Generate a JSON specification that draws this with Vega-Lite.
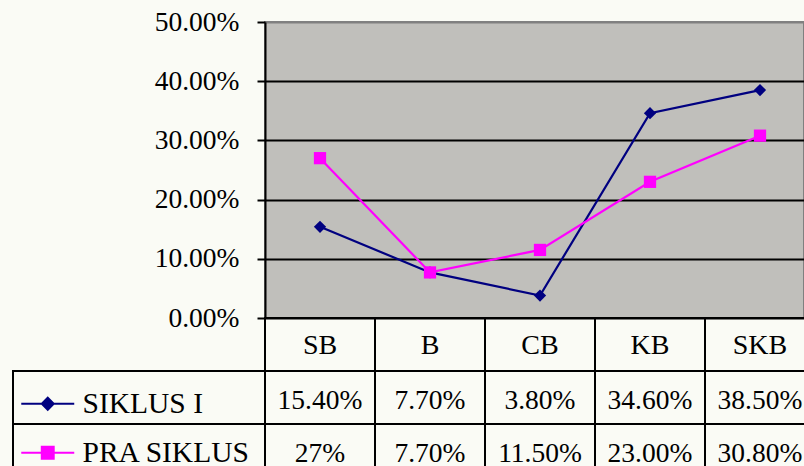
{
  "$schema": "https://vega.github.io/schema/vega-lite/v6.json",
  "width": 539,
  "height": 296,
  "autosize": {"type": "none"},
  "padding": {"left": 265, "top": 22, "right": 0, "bottom": 148},
  "background": "#fafbf5",
  "view": {"fill": "#c0bfbb", "stroke": "#808080", "strokeWidth": 2},
  "config": {
    "font": "Times New Roman, Liberation Serif, serif"
  },
  "datasets": {
    "scores": [
      {"category": "SB", "series": "SIKLUS I", "value": 0.154, "label": "15.40%"},
      {"category": "B", "series": "SIKLUS I", "value": 0.077, "label": "7.70%"},
      {"category": "CB", "series": "SIKLUS I", "value": 0.038, "label": "3.80%"},
      {"category": "KB", "series": "SIKLUS I", "value": 0.346, "label": "34.60%"},
      {"category": "SKB", "series": "SIKLUS I", "value": 0.385, "label": "38.50%"},
      {"category": "SB", "series": "PRA SIKLUS", "value": 0.27, "label": "27%"},
      {"category": "B", "series": "PRA SIKLUS", "value": 0.077, "label": "7.70%"},
      {"category": "CB", "series": "PRA SIKLUS", "value": 0.115, "label": "11.50%"},
      {"category": "KB", "series": "PRA SIKLUS", "value": 0.23, "label": "23.00%"},
      {"category": "SKB", "series": "PRA SIKLUS", "value": 0.308, "label": "30.80%"}
    ]
  },
  "data": {"name": "scores"},
  "resolve": {
    "scale": {
      "x": "independent",
      "y": "independent",
      "color": "independent",
      "fill": "independent",
      "stroke": "independent",
      "shape": "independent"
    }
  },
  "layer": [
    {
      "encoding": {
        "x": {
          "field": "category",
          "type": "ordinal",
          "scale": {"type": "point", "domain": ["SB", "B", "CB", "KB", "SKB"], "range": [0, 550], "padding": 0.5},
          "axis": null
        },
        "y": {
          "field": "value",
          "type": "quantitative",
          "scale": {"domain": [0, 0.5]},
          "axis": {
            "values": [0, 0.1, 0.2, 0.3, 0.4, 0.5],
            "format": ".2%",
            "title": null,
            "domainColor": "black",
            "domainWidth": 2,
            "tickColor": "black",
            "tickWidth": 2,
            "tickSize": 8,
            "labelFont": "Times New Roman, Liberation Serif, serif",
            "labelFontSize": 27.5,
            "labelColor": "black",
            "labelPadding": 18,
            "grid": true,
            "gridColor": {"condition": {"test": "datum.value >= 0.49", "value": "#808080"}, "value": "black"},
            "gridWidth": 2,
            "gridOpacity": 1
          }
        },
        "color": {
          "field": "series",
          "type": "nominal",
          "scale": {"domain": ["SIKLUS I", "PRA SIKLUS"], "range": ["#000080", "#ff00ff"]},
          "legend": null
        }
      },
      "layer": [
        {
          "mark": {"type": "line", "strokeWidth": 2.2},
          "encoding": {"order": {"value": null}}
        },
        {
          "mark": {"type": "point", "filled": true, "size": 150, "opacity": 1},
          "encoding": {
            "shape": {
              "field": "series",
              "type": "nominal",
              "scale": {"domain": ["SIKLUS I", "PRA SIKLUS"], "range": ["diamond", "square"]},
              "legend": null
            }
          }
        }
      ]
    },
    {
      "encoding": {
        "x": {
          "field": "category",
          "type": "nominal",
          "scale": {"type": "band", "domain": ["SB", "B", "CB", "KB", "SKB"], "range": [0, 550], "paddingInner": 0, "paddingOuter": 0},
          "axis": null
        }
      },
      "layer": [
        {
          "mark": {"type": "rect", "fill": "transparent", "stroke": "black", "strokeWidth": 2},
          "encoding": {
            "y": {
              "field": "series",
              "type": "nominal",
              "scale": {"type": "band", "domain": ["header", "SIKLUS I", "PRA SIKLUS"], "range": [296, 455], "paddingInner": 0, "paddingOuter": 0},
              "axis": null
            }
          }
        },
        {
          "mark": {"type": "text", "font": "Times New Roman, Liberation Serif, serif", "fontSize": 27.5, "color": "black", "dy": 3},
          "encoding": {
            "y": {"field": "series", "type": "nominal", "axis": null},
            "text": {"field": "label"}
          }
        },
        {
          "transform": [{"filter": "datum.series === 'SIKLUS I'"}],
          "mark": {"type": "rect", "fill": "transparent", "stroke": "black", "strokeWidth": 2},
          "encoding": {
            "y": {"datum": "header", "type": "nominal", "axis": null}
          }
        },
        {
          "transform": [{"filter": "datum.series === 'SIKLUS I'"}],
          "mark": {"type": "text", "font": "Times New Roman, Liberation Serif, serif", "fontSize": 28, "color": "black", "dy": 1},
          "encoding": {
            "y": {"datum": "header", "type": "nominal", "axis": null},
            "text": {"field": "category"}
          }
        }
      ]
    },
    {
      "transform": [{"filter": "datum.category === 'SB'"}],
      "mark": {"type": "rect", "fill": "transparent", "stroke": "black", "strokeWidth": 2},
      "encoding": {
        "x": {
          "datum": "key",
          "type": "nominal",
          "scale": {"type": "band", "domain": ["key"], "range": [-252, 0], "paddingInner": 0, "paddingOuter": 0},
          "axis": null
        },
        "y": {
          "field": "series",
          "type": "nominal",
          "scale": {"type": "band", "domain": ["header", "SIKLUS I", "PRA SIKLUS"], "range": [296, 455], "paddingInner": 0, "paddingOuter": 0},
          "axis": null
        }
      }
    },
    {
      "data": {"values": []},
      "mark": {"type": "point", "filled": true, "opacity": 1},
      "encoding": {
        "fill": {
          "field": "series",
          "type": "nominal",
          "scale": {"domain": ["SIKLUS I", "PRA SIKLUS"], "range": ["#000080", "#ff00ff"]},
          "legend": {"title": null, "orient": "none", "legendX": -232, "legendY": 367, "symbolSize": 702, "symbolStrokeWidth": 2, "labelFont": "Times New Roman, Liberation Serif, serif", "labelFontSize": 29.5, "labelColor": "black", "labelOffset": 20, "rowPadding": 18, "padding": 0, "labelLimit": 0}
        },
        "stroke": {
          "field": "series",
          "type": "nominal",
          "scale": {"domain": ["SIKLUS I", "PRA SIKLUS"], "range": ["#000080", "#ff00ff"]},
          "legend": {"title": null, "orient": "none", "legendX": -232, "legendY": 367, "symbolSize": 702, "symbolStrokeWidth": 2, "labelFont": "Times New Roman, Liberation Serif, serif", "labelFontSize": 29.5, "labelColor": "black", "labelOffset": 20, "rowPadding": 18, "padding": 0, "labelLimit": 0}
        },
        "shape": {
          "field": "series",
          "type": "nominal",
          "scale": {
            "domain": ["SIKLUS I", "PRA SIKLUS"],
            "range": ["M-2,0L2,0M0,-0.45L0.45,0L0,0.45L-0.45,0Z", "M-2,0L2,0M-0.45,-0.45L0.45,-0.45L0.45,0.45L-0.45,0.45Z"]
          },
          "legend": {"title": null, "orient": "none", "legendX": -232, "legendY": 367, "symbolSize": 702, "symbolStrokeWidth": 2, "labelFont": "Times New Roman, Liberation Serif, serif", "labelFontSize": 29.5, "labelColor": "black", "labelOffset": 20, "rowPadding": 18, "padding": 0, "labelLimit": 0}
        }
      }
    }
  ]
}
